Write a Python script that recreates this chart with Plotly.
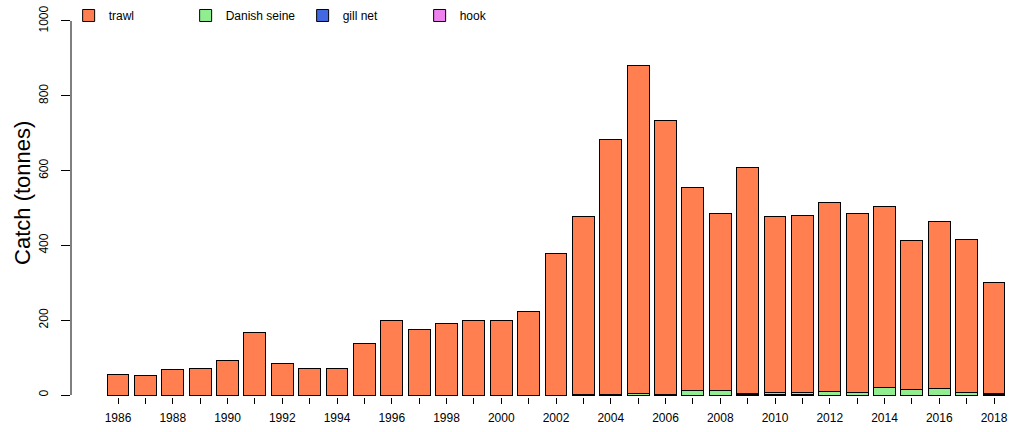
import plotly.graph_objects as go

years = list(range(1986, 2019))
total = [56, 51, 67, 70, 91, 168, 83, 70, 72, 139, 198, 176, 190, 200, 198, 222,
         377, 476, 684, 882, 735, 556, 484, 607, 476, 481, 516, 484, 505, 414, 465, 417, 302]
danish_seine = [0, 0, 0, 0, 0, 0, 0, 0, 0, 0, 0, 0, 0, 0, 0, 0,
                0, 2, 1, 3, 2, 11, 11, 4, 6, 6, 9, 8, 20, 14, 17, 8, 4]
gill_net = [0, 0, 0, 0, 0, 0, 0, 0, 0, 0, 0, 0, 0, 0, 0, 0,
            0, 0, 0, 0, 0, 0, 0, 1, 1, 1, 0, 0, 0, 0, 0, 0, 1]
hook = [0] * len(years)
trawl = [t - d - g - h for t, d, g, h in zip(total, danish_seine, gill_net, hook)]

# stacked bottom -> top; legend shows trawl first
series = [("hook", hook, "#EE82EE", 4),
          ("gill net", gill_net, "#4169E1", 3),
          ("Danish seine", danish_seine, "#90EE90", 2),
          ("trawl", trawl, "#FF7F50", 1)]

FONT = "Liberation Sans, Arial, sans-serif"

fig = go.Figure()
for name, vals, col, rank in series:
    fig.add_trace(go.Bar(x=years, y=vals, name=name, legendrank=rank,
                         marker=dict(color=col, line=dict(color="black", width=1)),
                         width=0.8))

ticktext = [str(y) if (y - 1986) % 2 == 0 else "" for y in years]

fig.update_layout(
    barmode="stack",
    width=1015, height=432,
    margin=dict(l=71, r=0, t=6, b=35, autoexpand=False),
    plot_bgcolor="white", paper_bgcolor="white",
    font=dict(family=FONT, size=12, color="black"),
    showlegend=True,
    legend=dict(orientation="h", x=-0.0025, xanchor="left", y=1.0128, yanchor="top",
                bgcolor="rgba(0,0,0,0)", font=dict(size=12),
                entrywidth=72, entrywidthmode="pixels", traceorder="normal"),
    xaxis=dict(range=[1984.283, 2018.767], tickvals=years, ticktext=ticktext,
               ticks="outside", ticklen=6, tickcolor="black", showline=False,
               showgrid=False, zeroline=False, tickfont=dict(size=12), automargin=False,
               ticklabelstandoff=4, ticklabeloverflow="allow"),
    yaxis=dict(range=[-5.35, 1040], tickvals=[0, 200, 400, 600, 800, 1000],
               ticks="outside", ticklen=9, tickcolor="black", showline=False,
               showgrid=False, zeroline=False, tickangle=-90, automargin=False,
               ticklabelstandoff=8, tickfont=dict(size=12), ticklabeloverflow="allow"),
    shapes=[dict(type="line", xref="paper", yref="y", x0=0, x1=0, y0=0, y1=1000,
                 line=dict(color="black", width=1))],
    annotations=[dict(text="Catch (tonnes)", xref="paper", yref="paper",
                      x=-0.052, y=(397 - 193) / 391, xanchor="center", yanchor="middle",
                      textangle=-90, showarrow=False, font=dict(size=22, family=FONT))],
)

fig.write_html("out.html", config={"displayModeBar": False},
               post_script="document.body.style.margin='0';")
